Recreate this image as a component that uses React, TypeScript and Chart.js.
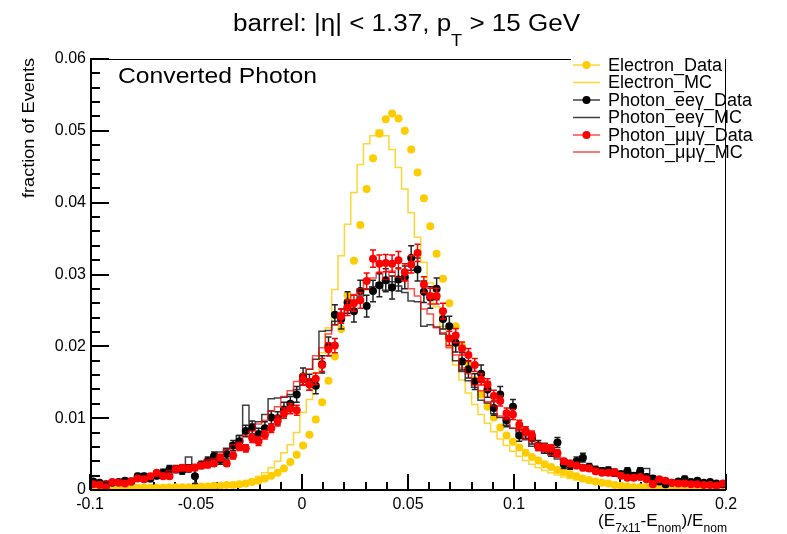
import { useEffect, useRef } from 'react';
import { Chart, registerables } from 'chart.js';
Chart.register(...registerables);

// ---- binning / axes ----
const X_MIN = -0.1;
const X_MAX = 0.2;
const N_BINS = 100;
const X_TICK_STEP = 0.05;
const X_MINOR_STEP = 0.01;
const Y_MIN = 0;
const Y_MAX = 0.06;
const Y_TICK_STEP = 0.01;
const Y_MINOR_STEP = 0.002;
const BIN_EDGES = Array.from({ length: N_BINS + 1 }, (_, k) => +(X_MIN + ((X_MAX - X_MIN) * k) / N_BINS).toFixed(5));
const BIN_CENTERS = BIN_EDGES.slice(0, -1).map((e, i) => (e + BIN_EDGES[i + 1]) / 2);

// ---- series ----
const electronData = [
  0.0002, 0.0002, 0.0002, 0.0002, 0.0002, 0.0003, 0.0003, 0.0003, 0.0003, 0.0003,
  0.0003, 0.0003, 0.0004, 0.0004, 0.0004, 0.0004, 0.0005, 0.0005, 0.0005, 0.0006,
  0.0006, 0.0007, 0.0007, 0.0008, 0.0009, 0.0011, 0.0013, 0.0016, 0.0020, 0.0024,
  0.0030, 0.0039, 0.0049, 0.0062, 0.0077, 0.0098, 0.0122, 0.0152, 0.0186, 0.0224,
  0.0271, 0.0319, 0.0369, 0.0419, 0.0462, 0.0496, 0.0516, 0.0524, 0.0517, 0.0500,
  0.0474, 0.0442, 0.0406, 0.0367, 0.0329, 0.0294, 0.0260, 0.0228, 0.0200, 0.0175,
  0.0153, 0.0133, 0.0116, 0.0101, 0.0087, 0.0076, 0.0067, 0.0059, 0.0052, 0.0046,
  0.0041, 0.0036, 0.0032, 0.0028, 0.0025, 0.0022, 0.0019, 0.0016, 0.0014, 0.0012,
  0.0010, 0.0009, 0.0007, 0.0006, 0.0005, 0.0004, 0.0004, 0.0004, 0.0003, 0.0003,
  0.0003, 0.0003, 0.0003, 0.0002, 0.0002, 0.0002, 0.0002, 0.0002, 0.0002, 0.0002,
];
const electronMC = [
  0.0002, 0.0002, 0.0002, 0.0002, 0.0003, 0.0003, 0.0003, 0.0003, 0.0003, 0.0003,
  0.0004, 0.0004, 0.0004, 0.0004, 0.0004, 0.0005, 0.0005, 0.0005, 0.0006, 0.0006,
  0.0006, 0.0007, 0.0008, 0.0009, 0.0010, 0.0012, 0.0015, 0.0019, 0.0024, 0.0031,
  0.0040, 0.0052, 0.0063, 0.0080, 0.0108, 0.0126, 0.0163, 0.0191, 0.0226, 0.0279,
  0.0326, 0.0370, 0.0414, 0.0453, 0.0482, 0.0493, 0.0501, 0.0493, 0.0474, 0.0449,
  0.0419, 0.0386, 0.0352, 0.0317, 0.0288, 0.0255, 0.0228, 0.0200, 0.0174, 0.0153,
  0.0135, 0.0119, 0.0105, 0.0093, 0.0081, 0.0071, 0.0062, 0.0054, 0.0047, 0.0041,
  0.0036, 0.0031, 0.0027, 0.0024, 0.0021, 0.0018, 0.0016, 0.0014, 0.0012, 0.0010,
  0.0009, 0.0008, 0.0007, 0.0006, 0.0006, 0.0005, 0.0005, 0.0004, 0.0006, 0.0004,
  0.0003, 0.0003, 0.0003, 0.0003, 0.0002, 0.0002, 0.0002, 0.0002, 0.0002, 0.0002,
];
const eegData = [
  0.0012, 0.0010, 0.0008, 0.0010, 0.0011, 0.0013, 0.0012, 0.0019, 0.0019, 0.0016,
  0.0020, 0.0024, 0.0029, 0.0029, 0.0027, 0.0030, 0.0019, 0.0035, 0.0040, 0.0047,
  0.0042, 0.0050, 0.0062, 0.0068, 0.0082, 0.0087, 0.0078, 0.0086, 0.0101, 0.0100,
  0.0112, 0.0120, 0.0133, 0.0158, 0.0150, 0.0145, 0.0175, 0.0200, 0.0244, 0.0238,
  0.0261, 0.0249, 0.0277, 0.0256, 0.0277, 0.0285, 0.0292, 0.0282, 0.0293, 0.0296,
  0.0323, 0.0307, 0.0276, 0.0268, 0.0280, 0.0238, 0.0228, 0.0205, 0.0179, 0.0168,
  0.0151, 0.0162, 0.0140, 0.0114, 0.0133, 0.0097, 0.0116, 0.0076, 0.0080, 0.0072,
  0.0062, 0.0058, 0.0054, 0.0066, 0.0036, 0.0034, 0.0040, 0.0045, 0.0032, 0.0028,
  0.0026, 0.0027, 0.0024, 0.0022, 0.0026, 0.0020, 0.0026, 0.0018, 0.0016, 0.0012,
  0.0008, 0.0010, 0.0012, 0.0015, 0.0011, 0.0013, 0.0010, 0.0011, 0.0009, 0.0008,
];
const eegDataErr = [
  0.0003, 0.0003, 0.0003, 0.0003, 0.0003, 0.0003, 0.0003, 0.0004, 0.0004, 0.0004,
  0.0004, 0.0005, 0.0005, 0.0005, 0.0005, 0.0005, 0.0010, 0.0005, 0.0006, 0.0006,
  0.0006, 0.0007, 0.0007, 0.0008, 0.0008, 0.0009, 0.0008, 0.0009, 0.0009, 0.0009,
  0.0010, 0.0010, 0.0011, 0.0012, 0.0011, 0.0011, 0.0012, 0.0013, 0.0014, 0.0014,
  0.0015, 0.0015, 0.0015, 0.0015, 0.0015, 0.0016, 0.0016, 0.0016, 0.0016, 0.0016,
  0.0017, 0.0016, 0.0015, 0.0015, 0.0015, 0.0014, 0.0014, 0.0013, 0.0012, 0.0012,
  0.0011, 0.0012, 0.0011, 0.0010, 0.0011, 0.0009, 0.0010, 0.0008, 0.0008, 0.0008,
  0.0007, 0.0007, 0.0007, 0.0007, 0.0006, 0.0005, 0.0006, 0.0006, 0.0005, 0.0005,
  0.0005, 0.0005, 0.0005, 0.0004, 0.0005, 0.0004, 0.0005, 0.0004, 0.0004, 0.0003,
  0.0003, 0.0003, 0.0003, 0.0004, 0.0003, 0.0003, 0.0003, 0.0003, 0.0003, 0.0003,
];
const eegMC = [
  0.0012, 0.0011, 0.0010, 0.0012, 0.0013, 0.0014, 0.0015, 0.0016, 0.0018, 0.0019,
  0.0021, 0.0023, 0.0026, 0.0027, 0.0029, 0.0031, 0.0046, 0.0033, 0.0038, 0.0042,
  0.0048, 0.0053, 0.0058, 0.0065, 0.0076, 0.0118, 0.0092, 0.0095, 0.0105, 0.0127,
  0.0128, 0.0129, 0.0133, 0.0140, 0.0152, 0.0168, 0.0182, 0.0221, 0.0222, 0.0235,
  0.0245, 0.0255, 0.0262, 0.0270, 0.0279, 0.0283, 0.0288, 0.0278, 0.0290, 0.0284,
  0.0275, 0.0263, 0.0262, 0.0228, 0.0230, 0.0227, 0.0217, 0.0212, 0.0180, 0.0165,
  0.0152, 0.0143, 0.0125, 0.0121, 0.0106, 0.0101, 0.0090, 0.0086, 0.0074, 0.0070,
  0.0061, 0.0059, 0.0051, 0.0049, 0.0043, 0.0042, 0.0037, 0.0036, 0.0031, 0.0031,
  0.0027, 0.0027, 0.0023, 0.0023, 0.0020, 0.0020, 0.0017, 0.0018, 0.0030, 0.0014,
  0.0014, 0.0013, 0.0012, 0.0011, 0.0011, 0.0010, 0.0010, 0.0009, 0.0009, 0.0008,
];
const mmgData = [
  0.0008, 0.0007, 0.0004, 0.0011, 0.0010, 0.0009, 0.0012, 0.0016, 0.0015, 0.0019,
  0.0024, 0.0019, 0.0019, 0.0029, 0.0031, 0.0030, 0.0031, 0.0034, 0.0035, 0.0037,
  0.0045, 0.0037, 0.0048, 0.0060, 0.0058, 0.0072, 0.0068, 0.0077, 0.0086, 0.0096,
  0.0107, 0.0113, 0.0111, 0.0154, 0.0147, 0.0155, 0.0174, 0.0196, 0.0201, 0.0242,
  0.0254, 0.0260, 0.0264, 0.0291, 0.0322, 0.0315, 0.0316, 0.0315, 0.0320, 0.0303,
  0.0314, 0.0330, 0.0286, 0.0270, 0.0270, 0.0249, 0.0211, 0.0215, 0.0197, 0.0188,
  0.0174, 0.0154, 0.0147, 0.0131, 0.0124, 0.0107, 0.0105, 0.0091, 0.0082, 0.0076,
  0.0060, 0.0059, 0.0058, 0.0051, 0.0040, 0.0037, 0.0034, 0.0031, 0.0030, 0.0026,
  0.0024, 0.0024, 0.0025, 0.0020, 0.0017, 0.0017, 0.0018, 0.0015, 0.0008, 0.0015,
  0.0013, 0.0010, 0.0009, 0.0009, 0.0008, 0.0008, 0.0007, 0.0007, 0.0006, 0.0009,
];
const mmgDataErr = [
  0.0002, 0.0002, 0.0001, 0.0002, 0.0002, 0.0002, 0.0002, 0.0003, 0.0003, 0.0003,
  0.0003, 0.0003, 0.0003, 0.0004, 0.0004, 0.0004, 0.0004, 0.0004, 0.0004, 0.0004,
  0.0004, 0.0004, 0.0005, 0.0005, 0.0005, 0.0006, 0.0006, 0.0006, 0.0006, 0.0007,
  0.0007, 0.0007, 0.0007, 0.0008, 0.0008, 0.0008, 0.0009, 0.0009, 0.0010, 0.0010,
  0.0011, 0.0011, 0.0011, 0.0011, 0.0012, 0.0012, 0.0012, 0.0012, 0.0012, 0.0012,
  0.0012, 0.0012, 0.0011, 0.0011, 0.0011, 0.0011, 0.0010, 0.0010, 0.0009, 0.0009,
  0.0009, 0.0008, 0.0008, 0.0008, 0.0007, 0.0007, 0.0007, 0.0006, 0.0006, 0.0006,
  0.0005, 0.0005, 0.0005, 0.0005, 0.0004, 0.0004, 0.0004, 0.0004, 0.0004, 0.0003,
  0.0003, 0.0003, 0.0003, 0.0003, 0.0003, 0.0003, 0.0003, 0.0003, 0.0002, 0.0003,
  0.0002, 0.0002, 0.0002, 0.0002, 0.0002, 0.0002, 0.0002, 0.0002, 0.0002, 0.0002,
];
const mmgMC = [
  0.0010, 0.0009, 0.0011, 0.0012, 0.0011, 0.0014, 0.0013, 0.0016, 0.0017, 0.0018,
  0.0021, 0.0020, 0.0024, 0.0027, 0.0026, 0.0031, 0.0032, 0.0036, 0.0037, 0.0042,
  0.0044, 0.0050, 0.0056, 0.0063, 0.0066, 0.0076, 0.0082, 0.0092, 0.0097, 0.0110,
  0.0116, 0.0130, 0.0138, 0.0151, 0.0160, 0.0168, 0.0187, 0.0198, 0.0217, 0.0230,
  0.0247, 0.0256, 0.0272, 0.0280, 0.0292, 0.0295, 0.0302, 0.0293, 0.0305, 0.0296,
  0.0292, 0.0280, 0.0270, 0.0252, 0.0245, 0.0226, 0.0219, 0.0198, 0.0188, 0.0170,
  0.0162, 0.0146, 0.0138, 0.0123, 0.0117, 0.0103, 0.0098, 0.0086, 0.0082, 0.0071,
  0.0067, 0.0059, 0.0056, 0.0049, 0.0046, 0.0040, 0.0038, 0.0033, 0.0032, 0.0027,
  0.0027, 0.0023, 0.0023, 0.0019, 0.0020, 0.0017, 0.0018, 0.0015, 0.0016, 0.0013,
  0.0014, 0.0011, 0.0012, 0.0010, 0.0011, 0.0009, 0.0010, 0.0008, 0.0009, 0.0008,
];

// ---- labels ----
const LEGEND_LABELS = ['Electron_Data', 'Electron_MC', 'Photon_eeγ_Data', 'Photon_eeγ_MC', 'Photon_μμγ_Data', 'Photon_μμγ_MC'];
const COLORS = {
  yellow: '#FFCC00',
  yellowLine: 'rgba(255,204,0,0.8)',
  black: '#000000',
  blackLine: 'rgba(0,0,0,0.75)',
  red: '#FF0000',
  redLine: 'rgba(255,0,0,0.7)',
};
const FONT = 'Liberation Sans, Arial, sans-serif';

const pts = (vals: number[]) => vals.map((v, i) => ({ x: BIN_CENTERS[i], y: v }));
const steps = (vals: number[]) => [
  ...vals.map((v, i) => ({ x: BIN_EDGES[i], y: v })),
  { x: BIN_EDGES[N_BINS], y: vals[N_BINS - 1] },
];
const fmtTick = (v: any) => String(+Number(v).toFixed(4));

function drawPieces(ctx: CanvasRenderingContext2D, pieces: { t: string; size: number; dy: number }[], x: number, y: number, width: number) {
  let total = 0;
  const ws = pieces.map((p) => {
    ctx.font = `${p.size}px ${FONT}`;
    const w = ctx.measureText(p.t).width;
    total += w;
    return w;
  });
  const s = width / total;
  ctx.save();
  ctx.translate(x, y);
  ctx.scale(s, 1);
  ctx.textAlign = 'left';
  ctx.textBaseline = 'alphabetic';
  let cx = 0;
  pieces.forEach((p, i) => {
    ctx.font = `${p.size}px ${FONT}`;
    ctx.fillText(p.t, cx, p.dy);
    cx += ws[i];
  });
  ctx.restore();
}

const framePlugin = {
  id: 'rootFrame',
  afterDraw(chart: any) {
    const ctx: CanvasRenderingContext2D = chart.ctx;
    const a = chart.chartArea;
    ctx.save();
    ctx.fillStyle = '#000000';
    ctx.fillRect(a.left, a.top, 571 - a.left, 1);
    ctx.fillRect(a.right - 1, a.top, 1, a.bottom - a.top);
    ctx.fillRect(a.left, a.top, 2, a.bottom - a.top + 1);
    ctx.fillRect(a.left, a.bottom - 1, a.right - a.left, 2);
    ctx.restore();
  },
};

const errorBarPlugin = {
  id: 'errorBars',
  beforeDatasetDraw(chart: any, args: any) {
    const ds = chart.data.datasets[args.index];
    if (!ds.errors) return;
    const ctx: CanvasRenderingContext2D = chart.ctx;
    const xs = chart.scales['x'];
    const ys = chart.scales['y'];
    ctx.save();
    ctx.strokeStyle = ds.errColor;
    ctx.lineWidth = 1.5;
    ctx.beginPath();
    ds.data.forEach((p: any, i: number) => {
      const e = ds.errors[i];
      const px = xs.getPixelForValue(p.x);
      const pt = ys.getPixelForValue(p.y + e);
      const pb = ys.getPixelForValue(Math.max(p.y - e, 0));
      ctx.moveTo(px, pt);
      ctx.lineTo(px, pb);
      ctx.moveTo(px - 3, pt);
      ctx.lineTo(px + 3, pt);
      ctx.moveTo(px - 3, pb);
      ctx.lineTo(px + 3, pb);
    });
    ctx.stroke();
    ctx.restore();
  },
};

const textPlugin = {
  id: 'rootTexts',
  afterDraw(chart: any) {
    const ctx: CanvasRenderingContext2D = chart.ctx;
    ctx.save();
    ctx.fillStyle = '#000';
    drawPieces(
      ctx,
      [
        { t: 'barrel: |η| < 1.37, p', size: 23, dy: 0 },
        { t: 'T', size: 16, dy: 15 },
        { t: ' > 15 GeV', size: 23, dy: 0 },
      ],
      233,
      31,
      347
    );
    drawPieces(ctx, [{ t: 'Converted Photon', size: 22, dy: 0 }], 118, 83, 199);
    drawPieces(
      ctx,
      [
        { t: '(E', size: 17, dy: 0 },
        { t: '7x11', size: 12, dy: 6 },
        { t: '-E', size: 17, dy: 0 },
        { t: 'nom', size: 12, dy: 6 },
        { t: ')/E', size: 17, dy: 0 },
        { t: 'nom', size: 12, dy: 6 },
      ],
      598,
      526,
      129
    );
    ctx.save();
    ctx.translate(34, 58);
    ctx.rotate(-Math.PI / 2);
    ctx.font = `16px ${FONT}`;
    const ytl = 'fraction of Events';
    const w = ctx.measureText(ytl).width;
    ctx.scale(140 / w, 1);
    ctx.textAlign = 'right';
    ctx.textBaseline = 'alphabetic';
    ctx.fillText(ytl, 0, 0);
    ctx.restore();
    const rows = [65, 82.5, 100, 117.5, 135, 152];
    const sym = [
      { c: COLORS.yellow, line: COLORS.yellowLine, marker: true },
      { c: COLORS.yellow, line: COLORS.yellowLine, marker: false },
      { c: COLORS.black, line: COLORS.blackLine, marker: true },
      { c: COLORS.black, line: COLORS.blackLine, marker: false },
      { c: COLORS.red, line: COLORS.redLine, marker: true },
      { c: COLORS.red, line: COLORS.redLine, marker: false },
    ];
    LEGEND_LABELS.forEach((lab, i) => {
      const y = rows[i];
      ctx.strokeStyle = sym[i].line;
      ctx.lineWidth = 1.5;
      ctx.beginPath();
      ctx.moveTo(573, y);
      ctx.lineTo(600, y);
      ctx.stroke();
      if (sym[i].marker) {
        ctx.fillStyle = sym[i].c;
        ctx.beginPath();
        ctx.arc(586.5, y, 4, 0, Math.PI * 2);
        ctx.fill();
      }
      ctx.fillStyle = '#000';
      ctx.font = `18px ${FONT}`;
      ctx.textAlign = 'left';
      ctx.textBaseline = 'middle';
      ctx.fillText(lab, 608, y + 1);
    });
    ctx.restore();
  },
};

export default function App() {
  const ref = useRef<HTMLCanvasElement>(null);
  useEffect(() => {
    document.body.style.margin = '0';
    const markerDs = (label: string, vals: number[], color: string, order: number, errors?: number[]) => ({
      label,
      data: pts(vals),
      xAxisID: 'x',
      yAxisID: 'y',
      showLine: false,
      pointRadius: 4,
      pointHoverRadius: 4,
      pointBackgroundColor: color,
      pointBorderColor: color,
      pointBorderWidth: 0,
      order,
      errors,
      errColor: color === COLORS.black ? '#222' : color,
    });
    const stepDs = (label: string, vals: number[], color: string, order: number) => ({
      label,
      data: steps(vals),
      xAxisID: 'x',
      yAxisID: 'y',
      showLine: true,
      stepped: 'after',
      borderColor: color,
      borderWidth: 1.5,
      pointRadius: 0,
      fill: false,
      tension: 0,
      order,
    });
    const majorGrid = (len: number) => ({
      display: true,
      drawOnChartArea: false,
      drawTicks: true,
      tickLength: -len,
      tickColor: '#000',
      tickWidth: 2,
      color: '#000',
      lineWidth: 2,
    });
    const chart = new Chart(ref.current as HTMLCanvasElement, {
      type: 'scatter',
      data: {
        datasets: [
          markerDs(LEGEND_LABELS[0], electronData, COLORS.yellow, 4) as any,
          stepDs(LEGEND_LABELS[1], electronMC, COLORS.yellowLine, 5) as any,
          markerDs(LEGEND_LABELS[2], eegData, COLORS.black, 2, eegDataErr) as any,
          stepDs(LEGEND_LABELS[3], eegMC, COLORS.blackLine, 3) as any,
          markerDs(LEGEND_LABELS[4], mmgData, COLORS.red, 0, mmgDataErr) as any,
          stepDs(LEGEND_LABELS[5], mmgMC, COLORS.redLine, 1) as any,
        ],
      },
      options: {
        animation: false,
        responsive: false,
        devicePixelRatio: 1,
        events: [],
        layout: { padding: { left: 0, top: 59, right: 61, bottom: 0 } },
        plugins: { legend: { display: false }, tooltip: { enabled: false } },
        scales: {
          x: {
            type: 'linear',
            axis: 'x',
            position: 'bottom',
            weight: 0,
            min: X_MIN,
            max: X_MAX,
            grid: majorGrid(16),
            border: { display: false },
            ticks: { stepSize: X_TICK_STEP, color: '#000', font: { family: FONT, size: 16 }, padding: 21, maxRotation: 0, autoSkip: false, callback: fmtTick },
            afterFit: (s: any) => {
              s.height = 44;
            },
          },
          xMinor: {
            type: 'linear',
            axis: 'x',
            position: 'bottom',
            weight: -1,
            min: X_MIN,
            max: X_MAX,
            grid: { ...majorGrid(8) },
            border: { display: false },
            ticks: { display: false, stepSize: X_MINOR_STEP, autoSkip: false },
            afterFit: (s: any) => {
              s.height = 0;
            },
          },
          y: {
            type: 'linear',
            axis: 'y',
            position: 'left',
            weight: 0,
            min: Y_MIN,
            max: Y_MAX,
            grid: majorGrid(19),
            border: { display: false },
            ticks: { stepSize: Y_TICK_STEP, color: '#000', font: { family: FONT, size: 16 }, padding: 23, autoSkip: false, callback: fmtTick },
            afterFit: (s: any) => {
              s.width = 90;
            },
          },
          yMinor: {
            type: 'linear',
            axis: 'y',
            position: 'left',
            weight: -1,
            min: Y_MIN,
            max: Y_MAX,
            grid: { ...majorGrid(10) },
            border: { display: false },
            ticks: { display: false, stepSize: Y_MINOR_STEP, autoSkip: false },
            afterFit: (s: any) => {
              s.width = 0;
            },
          },
        },
      } as any,
      plugins: [errorBarPlugin as any, framePlugin as any, textPlugin as any],
    });
    return () => chart.destroy();
  }, []);
  return <canvas ref={ref} width={787} height={534} style={{ display: 'block', width: 787, height: 534 }} />;
}
